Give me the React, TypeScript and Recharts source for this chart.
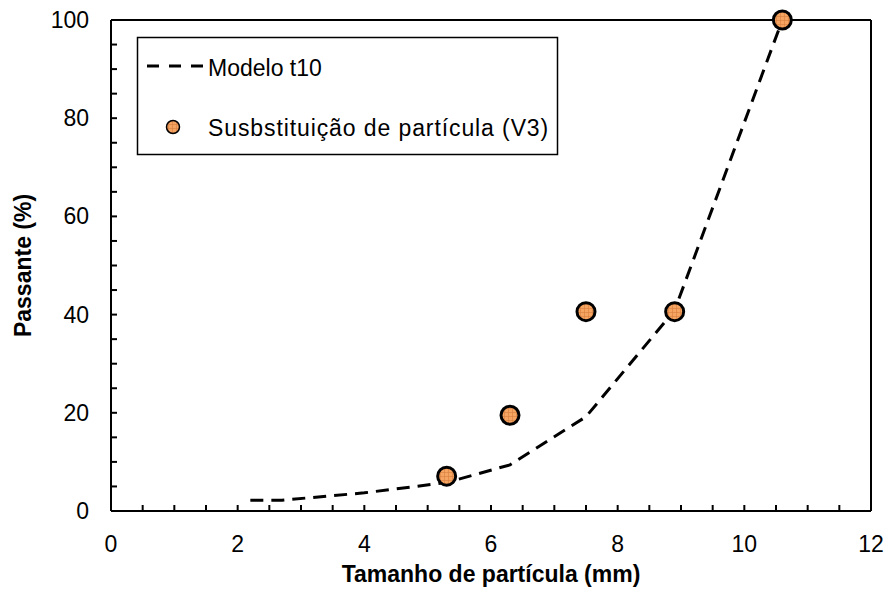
import React from 'react';
import { ComposedChart, Line, Scatter, XAxis, YAxis, ReferenceLine } from 'recharts';

// Modelo t10 (linha tracejada)
const modelX = [2.2, 2.7, 4.0, 5.3, 6.3, 7.5, 8.9, 10.6];
const modelY = [2.2, 2.2, 3.7, 5.8, 9.4, 19.2, 40.9, 100];

// Substituição de partícula (V3)
const expX = [5.3, 6.3, 7.5, 8.9, 10.6];
const expY = [7.1, 19.5, 40.6, 40.6, 100];

const xTicks = [0, 0.5, 1, 1.5, 2, 2.5, 3, 3.5, 4, 4.5, 5, 5.5, 6, 6.5, 7, 7.5, 8, 8.5, 9, 9.5, 10, 10.5, 11, 11.5, 12];
const yTicks = [0, 5, 10, 15, 20, 25, 30, 35, 40, 45, 50, 55, 60, 65, 70, 75, 80, 85, 90, 95, 100];
const xMajor = [0, 2, 4, 6, 8, 10, 12];
const yMajor = [0, 20, 40, 60, 80, 100];

const modelData = modelX.map((x, i) => ({ x, y: modelY[i] }));
const expData = expX.map((x, i) => ({ x, y: expY[i] }));

const FONT = '"Liberation Sans", Arial, sans-serif';
const ORANGE = '#F5A462';

const XTick = (props: any) => {
  const { x, y, payload } = props;
  const major = xMajor.includes(payload.value);
  return (
    <g>
      <line x1={x} x2={x} y1={y} y2={y - 6} stroke="#000" strokeWidth={2} />
      {major && (
        <text x={x} y={y + 41} textAnchor="middle" fontSize={23} fontFamily={FONT} fill="#000">
          {payload.value}
        </text>
      )}
    </g>
  );
};

const YTick = (props: any) => {
  const { x, y, payload } = props;
  const major = yMajor.includes(payload.value);
  return (
    <g>
      <line x1={x} x2={x + 6} y1={y} y2={y} stroke="#000" strokeWidth={2} />
      {major && (
        <text x={x - 22} y={y + 8} textAnchor="end" fontSize={23} fontFamily={FONT} fill="#000">
          {payload.value}
        </text>
      )}
    </g>
  );
};

const Dot = (props: any) => {
  const { cx, cy } = props;
  return <circle cx={cx} cy={cy} r={9} fill="url(#hatch)" stroke="#000" strokeWidth={3} />;
};

const LegendBox = () => (
  <div style={{ position: 'absolute', left: 0, top: 0, pointerEvents: 'none' }}>
    <svg width={889} height={595}>
      <rect x={137.5} y={37.5} width={420} height={117} fill="#fff" stroke="#000" strokeWidth={1.5} />
      <line x1={147} x2={204} y1={66} y2={66} stroke="#000" strokeWidth={3} strokeDasharray="12 10" />
      <text x={208} y={76} fontSize={23} fontFamily={FONT} fill="#000">
        Modelo t10
      </text>
      <circle cx={173} cy={127} r={6.5} fill="url(#hatch)" stroke="#000" strokeWidth={1.5} />
      <text x={208} y={136} fontSize={23} fontFamily={FONT} fill="#000" letterSpacing={0.9}>
        Susbstituição de partícula (V3)
      </text>
    </svg>
  </div>
);

export default function App() {
  return (
    <div style={{ position: 'absolute', left: 0, top: 0, width: 889, height: 595, background: '#fff' }}>
      <svg width={0} height={0} style={{ position: 'absolute' }}>
        <defs>
          <pattern id="hatch" width={4} height={4} patternUnits="userSpaceOnUse">
            <rect width={4} height={4} fill={ORANGE} />
            <path d="M0 0.5H4M0.5 0V4" stroke="#D9803F" strokeWidth={0.6} />
          </pattern>
        </defs>
      </svg>
      <div style={{ position: 'absolute', left: 0, top: 0 }}>
        <ComposedChart width={889} height={595} margin={{ top: 20, right: 18, bottom: 0, left: 0 }}>
          <XAxis
            type="number"
            dataKey="x"
            domain={[0, 12]}
            ticks={xTicks}
            interval={0}
            tick={<XTick />}
            tickLine={false}
            tickSize={0}
            tickMargin={0}
            axisLine={{ stroke: '#000', strokeWidth: 2 }}
            height={84}
            allowDataOverflow
            label={{
              value: 'Tamanho de partícula (mm)',
              position: 'insideBottom',
              offset: 13,
              style: { fontFamily: FONT, fontSize: 23, fontWeight: 'bold', fill: '#000' },
            }}
          />
          <YAxis
            type="number"
            dataKey="y"
            domain={[0, 100]}
            ticks={yTicks}
            interval={0}
            tick={<YTick />}
            tickLine={false}
            tickSize={0}
            tickMargin={0}
            axisLine={{ stroke: '#000', strokeWidth: 2 }}
            width={111}
            label={{
              value: 'Passante (%)',
              angle: -90,
              position: 'insideLeft',
              offset: 23,
              style: { fontFamily: FONT, fontSize: 23, fontWeight: 'bold', fill: '#000', textAnchor: 'middle' },
            }}
          />
          <ReferenceLine y={100} stroke="#000" strokeWidth={2} />
          <ReferenceLine x={12} stroke="#000" strokeWidth={2} />
          <Line
            data={modelData}
            dataKey="y"
            name="Modelo t10"
            type="linear"
            stroke="#000"
            strokeWidth={3}
            strokeDasharray="13 8"
            dot={false}
            activeDot={false}
            isAnimationActive={false}
          />
          <Scatter
            data={expData}
            dataKey="y"
            name="Susbstituição de partícula (V3)"
            shape={<Dot />}
            isAnimationActive={false}
          />
        </ComposedChart>
      </div>
      <LegendBox />
    </div>
  );
}
